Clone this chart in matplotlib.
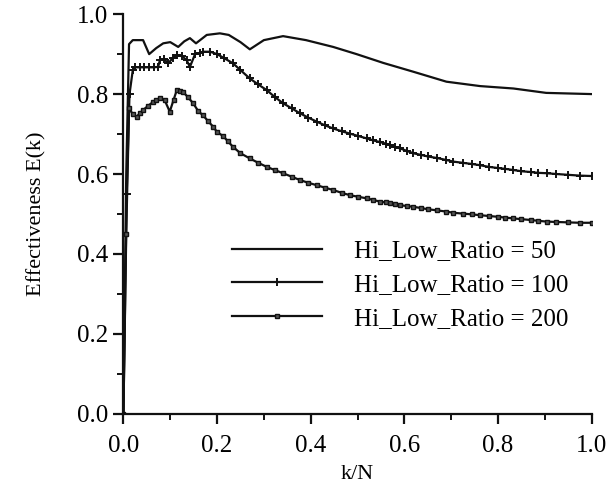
import numpy as np
import matplotlib
matplotlib.use("Agg")
import matplotlib.pyplot as plt
from matplotlib.ticker import MultipleLocator

# values
x50 = [0.0, 0.006, 0.012, 0.02, 0.042, 0.055, 0.07, 0.085, 0.10, 0.117, 0.13, 0.142,
       0.155, 0.178, 0.206, 0.225, 0.25, 0.27, 0.30, 0.341, 0.39, 0.448, 0.498,
       0.555, 0.619, 0.69, 0.762, 0.833, 0.903, 1.0]
y50 = [0.0, 0.60, 0.925, 0.935, 0.935, 0.90, 0.915, 0.927, 0.93, 0.918, 0.932, 0.94,
       0.927, 0.948, 0.952, 0.948, 0.93, 0.912, 0.935, 0.945, 0.935, 0.918, 0.90,
       0.878, 0.856, 0.831, 0.82, 0.814, 0.803, 0.80]

x100 = [0.0, 0.007, 0.013, 0.02, 0.025, 0.035, 0.045, 0.055, 0.065, 0.074, 0.078,
        0.087, 0.096, 0.105, 0.114, 0.125, 0.135, 0.142, 0.153, 0.163, 0.17, 0.185,
        0.2, 0.215, 0.234, 0.25, 0.27, 0.288, 0.306, 0.323, 0.341, 0.36, 0.377,
        0.395, 0.413, 0.43, 0.448, 0.466, 0.484, 0.502, 0.52, 0.534, 0.548, 0.56,
        0.57, 0.58, 0.591, 0.605, 0.619, 0.635, 0.65, 0.67, 0.69, 0.705, 0.725,
        0.745, 0.762, 0.78, 0.8, 0.815, 0.833, 0.85, 0.87, 0.885, 0.904, 0.925,
        0.95, 0.975, 1.0]
y100 = [0.0, 0.55, 0.80, 0.86, 0.867, 0.867, 0.867, 0.867, 0.867, 0.868, 0.885,
        0.887, 0.877, 0.89, 0.897, 0.895, 0.885, 0.868, 0.90, 0.903, 0.906, 0.906,
        0.90, 0.89, 0.877, 0.86, 0.839, 0.824, 0.81, 0.793, 0.777, 0.764, 0.752,
        0.741, 0.731, 0.722, 0.714, 0.707, 0.701, 0.695, 0.689, 0.684, 0.68, 0.676,
        0.672, 0.668, 0.664, 0.658, 0.652, 0.648, 0.644, 0.64, 0.635, 0.631, 0.628,
        0.625, 0.622, 0.618, 0.615, 0.613, 0.61, 0.607, 0.605, 0.603, 0.602, 0.6,
        0.598, 0.596, 0.595]

x200 = [0.0, 0.006, 0.012, 0.02, 0.028, 0.035, 0.042, 0.052, 0.063, 0.07, 0.078,
        0.088, 0.099, 0.107, 0.114, 0.12, 0.127, 0.138, 0.149, 0.16, 0.17, 0.181,
        0.192, 0.2, 0.213, 0.223, 0.234, 0.25, 0.27, 0.288, 0.306, 0.323, 0.341,
        0.36, 0.377, 0.395, 0.413, 0.43, 0.448, 0.466, 0.484, 0.502, 0.52, 0.534,
        0.548, 0.56, 0.57, 0.58, 0.591, 0.605, 0.619, 0.635, 0.65, 0.67, 0.69,
        0.705, 0.725, 0.745, 0.762, 0.78, 0.8, 0.815, 0.833, 0.85, 0.87, 0.885,
        0.904, 0.925, 0.95, 0.975, 1.0]
y200 = [0.0, 0.45, 0.764, 0.75, 0.743, 0.752, 0.76, 0.77, 0.78, 0.785, 0.789,
        0.785, 0.756, 0.785, 0.81, 0.808, 0.806, 0.792, 0.777, 0.757, 0.747, 0.732,
        0.718, 0.705, 0.695, 0.682, 0.668, 0.652, 0.639, 0.628, 0.618, 0.61, 0.602,
        0.593, 0.585, 0.578, 0.572, 0.566, 0.56, 0.553, 0.547, 0.543, 0.539, 0.535,
        0.531, 0.529, 0.527, 0.524, 0.522, 0.52, 0.518, 0.515, 0.512, 0.509, 0.506,
        0.503, 0.501, 0.499, 0.497, 0.495, 0.493, 0.491, 0.489, 0.487, 0.485, 0.483,
        0.481, 0.48, 0.479, 0.478, 0.478]

labels = ["Hi_Low_Ratio = 50", "Hi_Low_Ratio = 100", "Hi_Low_Ratio = 200"]

plt.rcParams['font.family'] = ['Liberation Serif', 'DejaVu Serif']
plt.rcParams['font.size'] = 18

fig = plt.figure(figsize=(6.08, 4.88), dpi=100)
ax = fig.add_axes([0.203, 0.152, 0.770, 0.819])

ink = "#111111"
ax.plot(x50, y50, color=ink, lw=1.6, label=labels[0])
ax.plot(x100, y100, color=ink, lw=1.6, marker="+", ms=6, mew=1.4, label=labels[1])
ax.plot(x200, y200, color=ink, lw=1.6, marker="s", ms=3.5, mfc="#555555",
        mec=ink, label=labels[2])

ax.set_xlim(0, 1.0)
ax.set_ylim(0, 1.0)
ax.spines["top"].set_visible(False)
ax.spines["right"].set_visible(False)
for s in ["left", "bottom"]:
    ax.spines[s].set_linewidth(1.6)
    ax.spines[s].set_color(ink)

ax.xaxis.set_major_locator(MultipleLocator(0.2))
ax.xaxis.set_minor_locator(MultipleLocator(0.1))
ax.yaxis.set_major_locator(MultipleLocator(0.2))
ax.yaxis.set_minor_locator(MultipleLocator(0.1))
ax.xaxis.set_major_formatter(lambda v, p: f"{v:.1f}")
ax.yaxis.set_major_formatter(lambda v, p: f"{v:.1f}")
ax.tick_params(which="major", direction="out", length=7, width=1.6, color=ink,
               labelsize=18)
ax.tick_params(which="minor", direction="out", length=4, width=1.4, color=ink)
ax.tick_params(axis="x", which="major", pad=8)
ax.tick_params(axis="y", which="major", pad=4)

ax.set_xlabel("k/N", fontsize=16, labelpad=6)
ax.set_ylabel("Effectiveness E(k)", fontsize=16, labelpad=22)

leg = ax.legend(loc="upper left", bbox_to_anchor=(0.21, 0.46), frameon=False,
                fontsize=18, handlelength=3.6, handletextpad=1.3,
                labelspacing=0.45, borderaxespad=0)
for h in leg.legend_handles:
    h.set_markevery([1])

fig.savefig("out.png", dpi=100)
